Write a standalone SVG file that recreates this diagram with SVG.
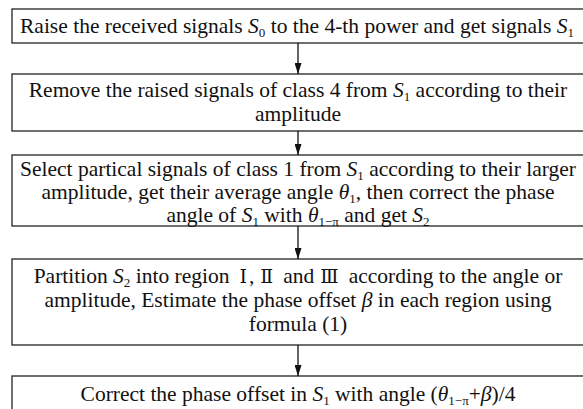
<svg xmlns="http://www.w3.org/2000/svg" width="583" height="409" viewBox="0 0 583 409">
<defs>
<style>
.box{fill:#fff;stroke:#222;stroke-width:1.3}
.t{font-family:"Liberation Serif","Times New Roman",serif;font-size:21.5px;fill:#111;text-anchor:middle}
.i{font-style:italic}
.r{font-family:"DejaVu Serif","Liberation Serif",serif;font-size:19px}
.conn line{stroke:#111;stroke-width:1.3}
</style>
<marker id="ah" markerWidth="11" markerHeight="7" refX="11" refY="3.5" orient="auto" markerUnits="userSpaceOnUse" viewBox="0 0 11 7">
<path d="M0,0 L11,3.5 L0,7 Z" fill="#111"/>
</marker>
</defs>
<rect width="583" height="409" fill="#fff"/>
<g id="n1">
<rect class="box" x="12" y="9" width="572" height="34"/>
<text class="t" x="297" y="33">Raise the received signals <tspan class="i">S</tspan><tspan font-size="13" dy="4">0</tspan><tspan dy="-4"> to the 4-th power and get signals </tspan><tspan class="i">S</tspan><tspan font-size="13" dy="4">1</tspan></text>
</g>
<g id="n2">
<rect class="box" x="12" y="74" width="572" height="57"/>
<text class="t" x="298" y="97">Remove the raised signals of class 4 from <tspan class="i">S</tspan><tspan font-size="13" dy="4">1</tspan><tspan dy="-4"> according to their</tspan></text>
<text class="t" x="298" y="121">amplitude</text>
</g>
<g id="n3">
<rect class="box" x="12" y="155" width="572" height="71"/>
<text class="t" x="298" y="176">Select partical signals of class 1 from <tspan class="i">S</tspan><tspan font-size="13" dy="4">1</tspan><tspan dy="-4"> according to their larger</tspan></text>
<text class="t" x="298" y="199">amplitude, get their average angle <tspan class="i">θ</tspan><tspan font-size="13" dy="4">1</tspan><tspan dy="-4">, then correct the phase</tspan></text>
<text class="t" x="298" y="222">angle of <tspan class="i">S</tspan><tspan font-size="13" dy="4">1</tspan><tspan dy="-4"> with </tspan><tspan class="i">θ</tspan><tspan font-size="13" dy="4">1−π</tspan><tspan dy="-4"> and get </tspan><tspan class="i">S</tspan><tspan font-size="13" dy="4">2</tspan></text>
</g>
<g id="n4">
<rect class="box" x="12" y="259" width="572" height="86"/>
<text class="t" x="298" y="283">Partition <tspan class="i">S</tspan><tspan font-size="13" dy="4">2</tspan><tspan dy="-4"> into region</tspan><tspan class="r" dx="10">Ⅰ</tspan><tspan dx="2">,</tspan><tspan class="r" dx="6">Ⅱ</tspan><tspan dx="10">and</tspan><tspan class="r" dx="6">Ⅲ</tspan><tspan dx="10">according to the angle or</tspan></text>
<text class="t" x="298" y="307">amplitude, Estimate the phase offset <tspan class="i">β</tspan> in each region using</text>
<text class="t" x="298" y="331">formula (1)</text>
</g>
<g id="n5">
<rect class="box" x="12" y="376" width="572" height="40"/>
<text class="t" x="298" y="401">Correct the phase offset in <tspan class="i">S</tspan><tspan font-size="13" dy="4">1</tspan><tspan dy="-4"> with angle (</tspan><tspan class="i">θ</tspan><tspan font-size="13" dy="4">1−π</tspan><tspan dy="-4">+</tspan><tspan class="i">β</tspan>)/4</text>
</g>
<g id="connectors" class="conn">
<line x1="298" y1="43" x2="298" y2="74" marker-end="url(#ah)"/>
<line x1="298" y1="131" x2="298" y2="155" marker-end="url(#ah)"/>
<line x1="298" y1="226" x2="298" y2="259" marker-end="url(#ah)"/>
<line x1="298" y1="345" x2="298" y2="376" marker-end="url(#ah)"/>
</g>
</svg>
